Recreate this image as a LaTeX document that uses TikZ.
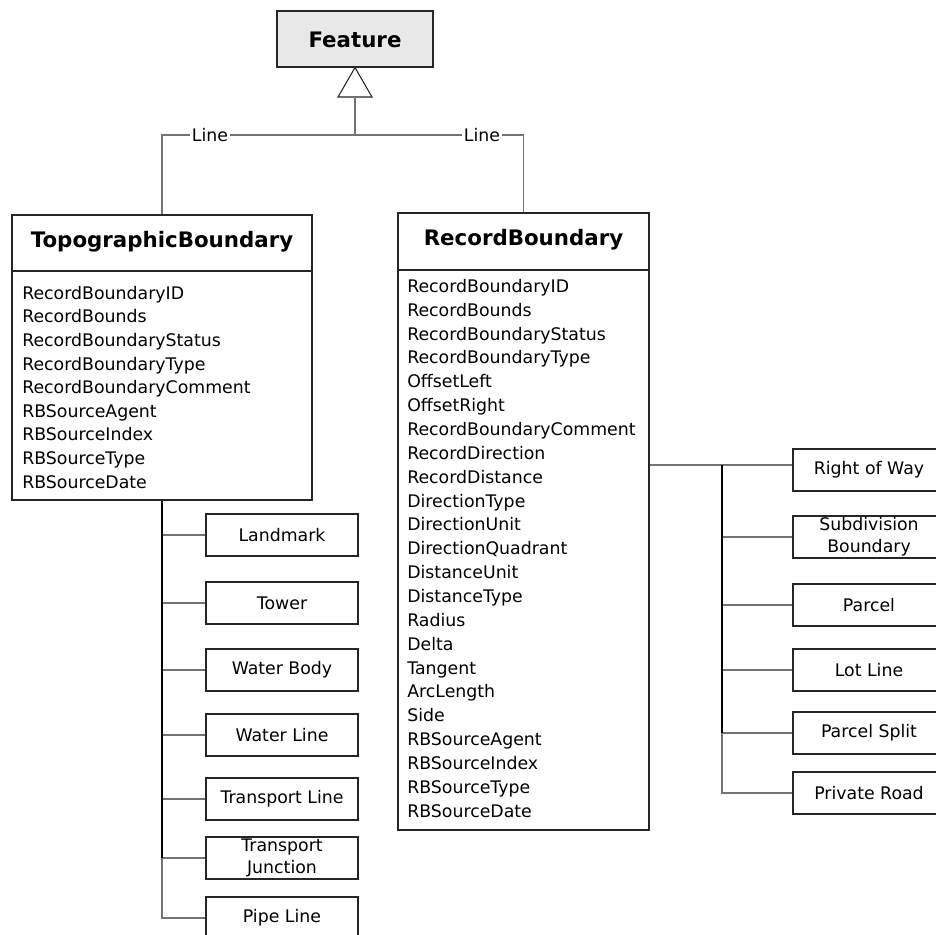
\documentclass[tikz,border=0pt]{standalone}
\usepackage{fontspec}
\setmainfont{DejaVu Sans}
\usetikzlibrary{calc}
\begin{document}
\begin{tikzpicture}[x=0.75pt,y=-0.75pt,
  boxline/.style={draw=black!85,line width=0.8pt},
  conn/.style={draw=black!55,line width=0.8pt},
  trunk/.style={draw=black,line width=1.5pt},
  title/.style={font=\fontsize{16}{19}\selectfont\bfseries,inner sep=0pt},
  attr/.style={anchor=west,inner sep=0pt,text height=9.5pt,text depth=0pt,font=\fontsize{13}{16}\selectfont},
  subbox/.style={boxline,fill=white,minimum width=114pt,minimum height=31.5pt,inner sep=0pt,align=center,font=\fontsize{13}{16.5}\selectfont},
  lbl/.style={fill=white,inner sep=1pt,font=\fontsize{13}{16}\selectfont}]
\useasboundingbox (0,0) rectangle (936,935);

% Feature
\node[boxline,fill=black!9,minimum width=117pt,minimum height=42pt,inner sep=0pt] (feat) at (355,39) {};
\node[title] (featT) at (355,40) {Feature};
\coordinate (tribase) at (355,97);
\coordinate (hub) at (355,135);
\draw[boxline,fill=white] (feat.south) -- ($(tribase)+(-17,0)$) -- ($(tribase)+(17,0)$) -- cycle;
\draw[conn] (tribase) -- (hub);

% Class boxes
\node[boxline,minimum width=225pt,minimum height=213.75pt,inner sep=0pt] (topo) at (162,357.5) {};
\node[boxline,minimum width=188.25pt,minimum height=462.75pt,inner sep=0pt] (rec) at (523.5,521.5) {};
\node[title] (topoT) at (162,242) {TopographicBoundary};
\node[title] (recT) at (523.5,240) {RecordBoundary};
\draw[boxline] (topo.west |- 0,271) -- (topo.east |- 0,271);
\draw[boxline] (rec.west |- 0,270) -- (rec.east |- 0,270);

% Line labels
\node[lbl] (lineL) at (210,135) {Line};
\node[lbl] (lineR) at (482,135) {Line};
\draw[conn] (hub) -- (lineL.east);
\draw[conn] (lineL.west) -| (topo.north);
\draw[conn] (hub) -- (lineR.west);
\draw[conn] (lineR.east) -| (rec.north);

% Attributes
\foreach \t [count=\i] in {RecordBoundaryID,RecordBounds,RecordBoundaryStatus,RecordBoundaryType,RecordBoundaryComment,RBSourceAgent,RBSourceIndex,RBSourceType,RBSourceDate}
  \node[attr] (ta\i) at (22,{293+(\i-1)*23.6}) {\t};
\foreach \t [count=\i] in {RecordBoundaryID,RecordBounds,RecordBoundaryStatus,RecordBoundaryType,OffsetLeft,OffsetRight,RecordBoundaryComment,RecordDirection,RecordDistance,DirectionType,DirectionUnit,DirectionQuadrant,DistanceUnit,DistanceType,Radius,Delta,Tangent,ArcLength,Side,RBSourceAgent,RBSourceIndex,RBSourceType,RBSourceDate}
  \node[attr] (ra\i) at (407,{286+(\i-1)*23.86}) {\t};

% Left sub boxes
\node[subbox] (lm) at (282,535) {Landmark};
\node[subbox] (tw) at (282,603) {Tower};
\node[subbox] (wb) at (282,670) {Water Body};
\node[subbox] (wl) at (282,735) {Water Line};
\node[subbox] (tl) at (282,799) {Transport Line};
\node[subbox] (tj) at (282,858) {Transport\\Junction};
\node[subbox] (pl) at (282,918) {Pipe Line};

\coordinate (ltrunkend) at (topo.south |- tj.west);
\foreach \b in {lm,tw,wb,wl,tl,tj}
  \draw[conn] (topo.south |- \b.west) -- (\b.west);
\draw[conn] (ltrunkend) |- (pl.west);
\draw[trunk] (topo.south) -- (ltrunkend);

% Right sub boxes
\node[subbox] (rw) at (869,470) {Right of Way};
\node[subbox] (sb) at (869,537) {Subdivision\\Boundary};
\node[subbox] (pa) at (869,605) {Parcel};
\node[subbox] (ll) at (869,670) {Lot Line};
\node[subbox] (ps) at (869,733) {Parcel Split};
\node[subbox] (pr) at (869,793) {Private Road};

\coordinate (rwin) at ($(rw.west)+(0,-5)$);
\coordinate (rtrunktop) at (722,465);
\coordinate (rtrunkend) at (rtrunktop |- ps.west);
\draw[conn] (rec.east |- rwin) -- (rwin);
\foreach \b in {sb,pa,ll,ps}
  \draw[conn] (rtrunktop |- \b.west) -- (\b.west);
\draw[conn] (rtrunkend) |- (pr.west);
\draw[trunk] (rtrunktop) -- (rtrunkend);
\end{tikzpicture}
\end{document}
